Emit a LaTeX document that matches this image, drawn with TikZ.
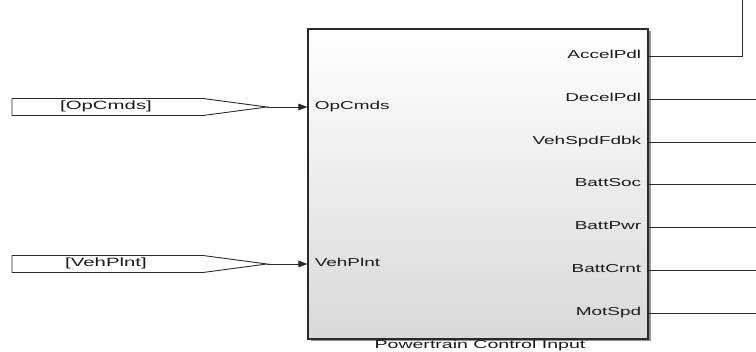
\documentclass[tikz,border=0pt]{standalone}
\usepackage{fontspec}
\setmainfont{Liberation Sans}
\usetikzlibrary{arrows.meta,shadows}
\definecolor{linec}{HTML}{2A2A2A}
\definecolor{txtc}{HTML}{1A1A1A}
\tikzset{
  wire/.style={draw=linec, line width=0.8pt},
  sig/.style={wire, -{Triangle[length=9pt,width=6.5pt]}},
  portlbl/.style={inner sep=0pt, xscale=1.65, font=\fontsize{11.5}{12}\selectfont, text=txtc},
  taglbl/.style={inner sep=0pt, xscale=1.7, font=\fontsize{12}{13}\selectfont, text=txtc},
  tagshape/.style={draw=linec, line width=0.9pt, fill=white},
  blockstyle/.style={draw=linec, line width=1.1pt, top color=white, bottom color=black!15,
     minimum width=340pt, minimum height=310pt, inner sep=0pt,
     drop shadow={shadow xshift=2.5pt, shadow yshift=-2.5pt, fill=black!50, opacity=0.85}},
}
\begin{document}
\begin{tikzpicture}[x=1pt,y=-1pt]
\useasboundingbox (0,0) rectangle (756,352);
% block
\node[blockstyle] (blk) at (478,184) {};
\node[taglbl, anchor=base, font=\fontsize{11.5}{12}\selectfont] (cap) at (480,348.5) {Powertrain Control Input};
% input ports
\coordinate (in1) at (blk.west |- 0,107);
\coordinate (in2) at (blk.west |- 0,264);
\node[portlbl, anchor=mid west] (lin1) at ([xshift=7pt]in1) {OpCmds};
\node[portlbl, anchor=mid west] (lin2) at ([xshift=7pt]in2) {VehPlnt};
% goto tags
\draw[tagshape] (12,98.5) -- (203,98.5) -- (267,107) -- (203,115.5) -- (12,115.5) -- cycle;
\coordinate (tip1) at (267,107);
\node[taglbl, anchor=mid] (t1) at (106,107) {[OpCmds]};
\draw[tagshape] (12,255.5) -- (203,255.5) -- (267,264) -- (203,272.5) -- (12,272.5) -- cycle;
\coordinate (tip2) at (267,264);
\node[taglbl, anchor=mid] (t2) at (106,264) {[VehPlnt]};
\draw[sig] (tip1) -- (in1);
\draw[sig] (tip2) -- (in2);
% output ports
\foreach \i/\yy/\lbl in {1/56/AccelPdl, 2/99/DecelPdl, 3/142/VehSpdFdbk, 4/184/BattSoc, 5/227/BattPwr, 6/270/BattCrnt, 7/313/MotSpd}{
  \coordinate (out\i) at (blk.east |- 0,\yy);
  \node[portlbl, anchor=mid east] (lo\i) at ([xshift=-7pt]out\i) {\lbl};
  \coordinate (end\i) at (756,\yy);
}
\coordinate (up1) at (742,0);
\draw[wire] (out1) -| (up1);
\foreach \i in {2,...,7}{ \draw[wire] (out\i) -- (end\i); }
\end{tikzpicture}
\end{document}
